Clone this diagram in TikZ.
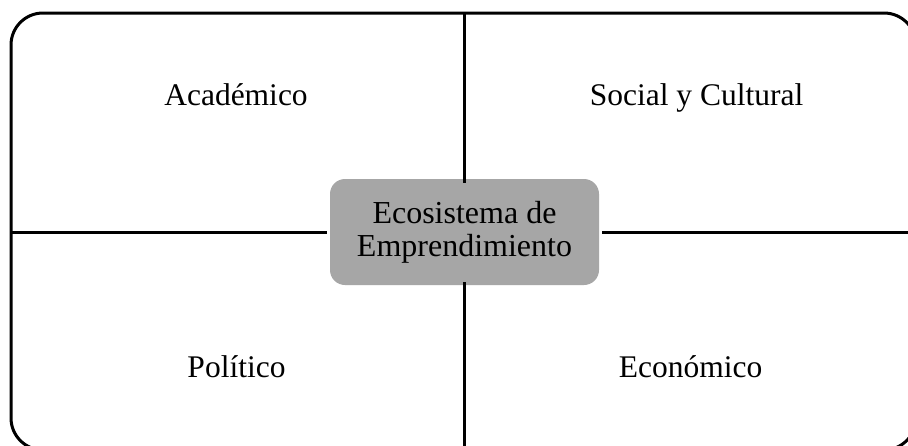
\documentclass[tikz,border=0pt]{standalone}
\usepackage{fontspec}
\setmainfont{Liberation Serif}
\definecolor{boxgray}{HTML}{A6A6A6}
\tikzset{
  lbl/.style={anchor=base, inner sep=0pt, font=\fontsize{31.5}{31}\selectfont},
  hub/.style={rectangle, rounded corners=15pt, fill=boxgray,
    minimum width=269pt, minimum height=106pt, align=center, inner sep=0pt,
    font=\fontsize{32}{33}\selectfont},
  divider/.style={line width=3pt},
  frame/.style={line width=3pt, rounded corners=32pt}
}
\begin{document}
\begin{tikzpicture}[x=1pt,y=-1pt]
\useasboundingbox (0,0) rectangle (908,445);
\clip (0,0) rectangle (908,445);
\fill[white] (0,0) rectangle (908,445);
\draw[frame] (11,13) rectangle (916,450);
\node[hub] (c) at (464.5,232) {Ecosistema de\\[0pt]Emprendimiento};
\coordinate (top) at (464,13);
\coordinate (bot) at (464,447);
\coordinate (lft) at (11,232.5);
\coordinate (rgt) at (916,232.5);
\draw[divider] (top) -- ([yshift=-4pt]c.north -| top);
\draw[divider] (bot) -- ([yshift=3pt]c.south -| bot);
\draw[divider] (lft) -- ([xshift=-3pt]c.west |- lft);
\draw[divider] (rgt) -- ([xshift=3pt]c.east |- rgt);
\node[lbl] (acad) at (236,105) {Académico};
\node[lbl] (soc) at (696.5,105) {Social y Cultural};
\node[lbl] (pol) at (236.5,377) {Político};
\node[lbl] (eco) at (690.5,377) {Económico};
\end{tikzpicture}
\end{document}
